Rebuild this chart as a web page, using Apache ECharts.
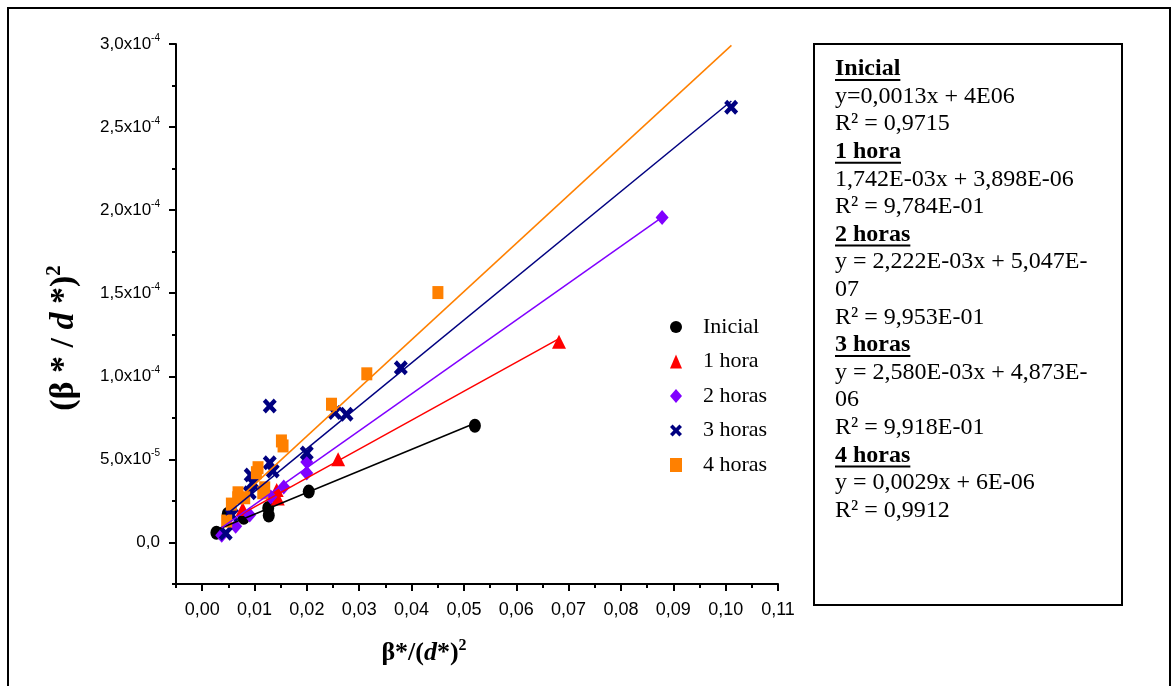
<!DOCTYPE html>
<html>
<head>
<meta charset="utf-8">
<script src="https://cdn.jsdelivr.net/npm/echarts@6/dist/echarts.min.js"></script>
<style>
  html, body { margin: 0; padding: 0; background: #fff; }
  #chart { width: 1173px; height: 686px; }
</style>
</head>
<body>
<div id="chart"></div>
<script>
// ---- measured points: β*/(d*)² against (β*/d*)² ----
const seriesNames = ['Inicial', '1 hora', '2 horas', '3 horas', '4 horas'];

const inicialX = [0.00272, 0.00488, 0.00794, 0.01262, 0.01272, 0.02036, 0.0521];
const inicialY = [5.8e-6, 1.71e-5, 1.48e-5, 2.07e-5, 1.62e-5, 3.06e-5, 7.02e-5];

const hora1X = [0.00774, 0.01424, 0.01444, 0.02597, 0.06816];
const hora1Y = [2.01e-5, 3.15e-5, 2.64e-5, 5.01e-5, 1.208e-4];

const horas2X = [0.00373, 0.0064, 0.00908, 0.0131, 0.01558, 0.01998, 0.01998, 0.08786];
const horas2Y = [4.4e-6, 9.8e-6, 1.65e-5, 2.73e-5, 3.34e-5, 4.84e-5, 4.18e-5, 1.956e-4];

const horas3X = [0.0045, 0.00564, 0.00908, 0.00966, 0.00927, 0.01291, 0.01348, 0.01291, 0.01998, 0.02533, 0.02757, 0.03795, 0.10105];
const horas3Y = [5.6e-6, 1.65e-5, 2.99e-5, 3.6e-5, 4.06e-5, 4.8e-5, 4.3e-5, 8.22e-5, 5.39e-5, 7.82e-5, 7.72e-5, 1.051e-4, 2.62e-4];

const horas4X = [0.00468, 0.00558, 0.00679, 0.00685, 0.00813, 0.01157, 0.01195, 0.01036, 0.01067, 0.01514, 0.01545, 0.0247, 0.03145, 0.04503];
const horas4Y = [1.29e-5, 2.31e-5, 2.69e-5, 2.99e-5, 2.69e-5, 2.99e-5, 3.29e-5, 4.2e-5, 4.5e-5, 6.11e-5, 5.81e-5, 8.32e-5, 1.015e-4, 1.504e-4];

// linear fits as printed in the side box (slope, intercept) and the x span each is drawn over
const fitSlopes = [0.0013, 1.742e-3, 2.222e-3, 2.580e-3, 0.0029];
const fitIntercepts = [4e-6, 3.898e-6, 5.047e-7, 4.873e-6, 6e-6];
const fitFrom = [0.0027, 0.0077, 0.0037, 0.0045, 0.0047];
const fitTo = [0.0521, 0.0682, 0.0879, 0.1011, 0.1011];

// axis ticks
const xTickValues = [0, 0.01, 0.02, 0.03, 0.04, 0.05, 0.06, 0.07, 0.08, 0.09, 0.10, 0.11];
const xTickLabels = ['0,00', '0,01', '0,02', '0,03', '0,04', '0,05', '0,06', '0,07', '0,08', '0,09', '0,10', '0,11'];
const xMinorValues = [-0.005, 0.005, 0.015, 0.025, 0.035, 0.045, 0.055, 0.065, 0.075, 0.085, 0.095, 0.105];
const yTickValues = [0, 5e-5, 1e-4, 1.5e-4, 2e-4, 2.5e-4, 3e-4];
const yTickMantissas = ['0,0', '5,0', '1,0', '1,5', '2,0', '2,5', '3,0'];
const yTickExponents = ['', '-5', '-4', '-4', '-4', '-4', '-4'];
const yMinorValues = [-2.5e-5, 2.5e-5, 7.5e-5, 1.25e-4, 1.75e-4, 2.25e-4, 2.75e-4];

// side box text: [text, isHeading]
const boxLines = [
  ['Inicial', true],
  ['y=0,0013x + 4E06', false],
  ['R\u00b2 = 0,9715', false],
  ['1 hora', true],
  ['1,742E-03x + 3,898E-06', false],
  ['R\u00b2 = 9,784E-01', false],
  ['2 horas', true],
  ['y = 2,222E-03x + 5,047E-', false],
  ['07', false],
  ['R\u00b2 = 9,953E-01', false],
  ['3 horas', true],
  ['y = 2,580E-03x + 4,873E-', false],
  ['06', false],
  ['R\u00b2 = 9,918E-01', false],
  ['4 horas', true],
  ['y = 0,0029x + 6E-06', false],
  ['R\u00b2 = 0,9912', false]
];

const colors = ['#000000', '#ff0000', '#8000ff', '#000080', '#ff8000'];
// bold saltire used for the "3 horas" marks
const crossPath = 'path://M0,2.6L2.6,0L6,3.4L9.4,0L12,2.6L8.6,6L12,9.4L9.4,12L6,8.6L2.6,12L0,9.4L3.4,6Z';
const symbols = ['circle', 'triangle', 'diamond', crossPath, 'rect'];
const symbolSizes = [[12, 14], [14, 14], [13, 15], [14, 15], [11, 13]];

const xs = [inicialX, hora1X, horas2X, horas3X, horas4X];
const ys = [inicialY, hora1Y, horas2Y, horas3Y, horas4Y];

const tickFont = '"Liberation Sans", Arial, sans-serif';
const serif = '"Liberation Serif", "Times New Roman", serif';

function nearestIndex(arr, v) {
  let best = 0;
  for (let i = 1; i < arr.length; i++) {
    if (Math.abs(arr[i] - v) < Math.abs(arr[best] - v)) best = i;
  }
  return best;
}

const scatterSeries = seriesNames.map((name, i) => ({
  name: name,
  type: 'scatter',
  xAxisIndex: 0,
  yAxisIndex: 0,
  symbol: symbols[i],
  symbolSize: symbolSizes[i],
  itemStyle: { color: colors[i], opacity: 1 },
  z: 3,
  data: xs[i].map((x, k) => [x, ys[i][k]])
}));

const fitSeries = seriesNames.map((name, i) => ({
  name: name + ' (ajuste)',
  type: 'line',
  xAxisIndex: 0,
  yAxisIndex: 0,
  symbol: 'none',
  silent: true,
  clip: true,
  z: 4,
  lineStyle: { color: colors[i], width: 1.5 },
  data: [fitFrom[i], fitTo[i]].map(x => [x, fitSlopes[i] * x + fitIntercepts[i]])
}));

// side box graphics
const boxX = 814, boxY = 44, boxW = 308, boxH = 561;
const textX = 835, firstLineY = 69, linePitch = 27.6, boxFontSize = 24;
const measureCtx = document.createElement('canvas').getContext('2d');
const boxGraphics = [{
  type: 'rect',
  shape: { x: boxX, y: boxY, width: boxW, height: boxH },
  style: { fill: '#fff', stroke: '#000', lineWidth: 2 },
  z: 10
}];
boxLines.forEach((line, i) => {
  const y = firstLineY + i * linePitch;
  const font = (line[1] ? 'bold ' : '') + boxFontSize + 'px ' + serif;
  boxGraphics.push({
    type: 'text',
    x: textX, y: y,
    style: { text: line[0], font: font, fill: '#000', align: 'left', verticalAlign: 'middle' },
    z: 11
  });
  if (line[1]) {
    measureCtx.font = font;
    const w = measureCtx.measureText(line[0]).width;
    boxGraphics.push({
      type: 'line',
      shape: { x1: textX, y1: y + 11, x2: textX + w, y2: y + 11 },
      style: { stroke: '#000', lineWidth: 2 },
      z: 11
    });
  }
});

const option = {
  animation: false,
  backgroundColor: '#fff',
  grid: { left: 176, top: 44, width: 602, height: 540, containLabel: false },
  xAxis: [{
    type: 'value', min: -0.005, max: 0.11, position: 'bottom',
    axisLine: { show: true, onZero: false, lineStyle: { color: '#000', width: 2 } },
    axisTick: { show: true, inside: false, length: 7, lineStyle: { color: '#000', width: 2 }, customValues: xTickValues },
    axisLabel: {
      show: true, margin: 17, customValues: xTickValues,
      color: '#000', fontFamily: tickFont, fontSize: 18,
      formatter: v => xTickLabels[nearestIndex(xTickValues, v)]
    },
    splitLine: { show: false }
  }, {
    type: 'value', min: -0.005, max: 0.11, position: 'bottom',
    axisLine: { show: false, onZero: false },
    axisTick: { show: true, inside: false, length: 4, lineStyle: { color: '#000', width: 2 }, customValues: xMinorValues },
    axisLabel: { show: false },
    splitLine: { show: false }
  }],
  yAxis: [{
    type: 'value', min: -2.5e-5, max: 3e-4, position: 'left',
    axisLine: { show: true, onZero: false, lineStyle: { color: '#000', width: 2 } },
    axisTick: { show: true, inside: false, length: 7, lineStyle: { color: '#000', width: 2 }, customValues: yTickValues },
    axisLabel: {
      show: true, margin: 16, customValues: yTickValues, color: '#000',
      formatter: v => {
        const k = nearestIndex(yTickValues, v);
        if (!yTickExponents[k]) return '{m|' + yTickMantissas[k] + '}';
        return '{m|' + yTickMantissas[k] + 'x10}{e|' + yTickExponents[k] + '}';
      },
      rich: {
        m: { fontFamily: tickFont, fontSize: 17, color: '#000', lineHeight: 22 },
        e: { fontFamily: tickFont, fontSize: 10, color: '#000', verticalAlign: 'top', lineHeight: 10 }
      }
    },
    splitLine: { show: false }
  }, {
    type: 'value', min: -2.5e-5, max: 3e-4, position: 'left',
    axisLine: { show: false, onZero: false },
    axisTick: { show: true, inside: false, length: 4, lineStyle: { color: '#000', width: 2 }, customValues: yMinorValues },
    axisLabel: { show: false },
    splitLine: { show: false }
  }],
  legend: {
    orient: 'vertical',
    left: 670, top: 316, padding: 0,
    itemWidth: 12, itemHeight: 14, itemGap: 12.5,
    textStyle: { fontFamily: serif, fontSize: 22, color: '#000', lineHeight: 22, padding: [0, 0, 0, 16] },
    selectedMode: false,
    data: seriesNames
  },
  graphic: [
    // outer frame
    {
      type: 'rect', shape: { x: 8, y: 8, width: 1162, height: 700 },
      style: { fill: 'none', stroke: '#000', lineWidth: 2 }, z: 0, silent: true
    },
    // y axis title
    {
      type: 'text', x: 64, y: 338, rotation: Math.PI / 2,
      style: {
        text: '{b|(\u03b2 * / }{bi|d}{b| *)}{s|2}',
        align: 'center', verticalAlign: 'middle',
        rich: {
          b: { fontFamily: serif, fontWeight: 'bold', fontSize: 34, fill: '#000', lineHeight: 40 },
          bi: { fontFamily: serif, fontWeight: 'bold', fontStyle: 'italic', fontSize: 34, fill: '#000', lineHeight: 40 },
          s: { fontFamily: serif, fontWeight: 'bold', fontSize: 21, fill: '#000', verticalAlign: 'top', lineHeight: 21 }
        }
      },
      z: 5
    },
    // x axis title
    {
      type: 'text', x: 424, y: 653,
      style: {
        text: '{b|\u03b2*/(}{bi|d}{b|*)}{s|2}',
        align: 'center', verticalAlign: 'middle',
        rich: {
          b: { fontFamily: serif, fontWeight: 'bold', fontSize: 26, fill: '#000', lineHeight: 30 },
          bi: { fontFamily: serif, fontWeight: 'bold', fontStyle: 'italic', fontSize: 26, fill: '#000', lineHeight: 30 },
          s: { fontFamily: serif, fontWeight: 'bold', fontSize: 16, fill: '#000', verticalAlign: 'top', lineHeight: 16 }
        }
      },
      z: 5
    }
  ].concat(boxGraphics),
  series: fitSeries.concat(scatterSeries)
};

const chart = echarts.init(document.getElementById('chart'), null, { renderer: 'canvas' });
chart.setOption(option);
</script>
</body>
</html>
